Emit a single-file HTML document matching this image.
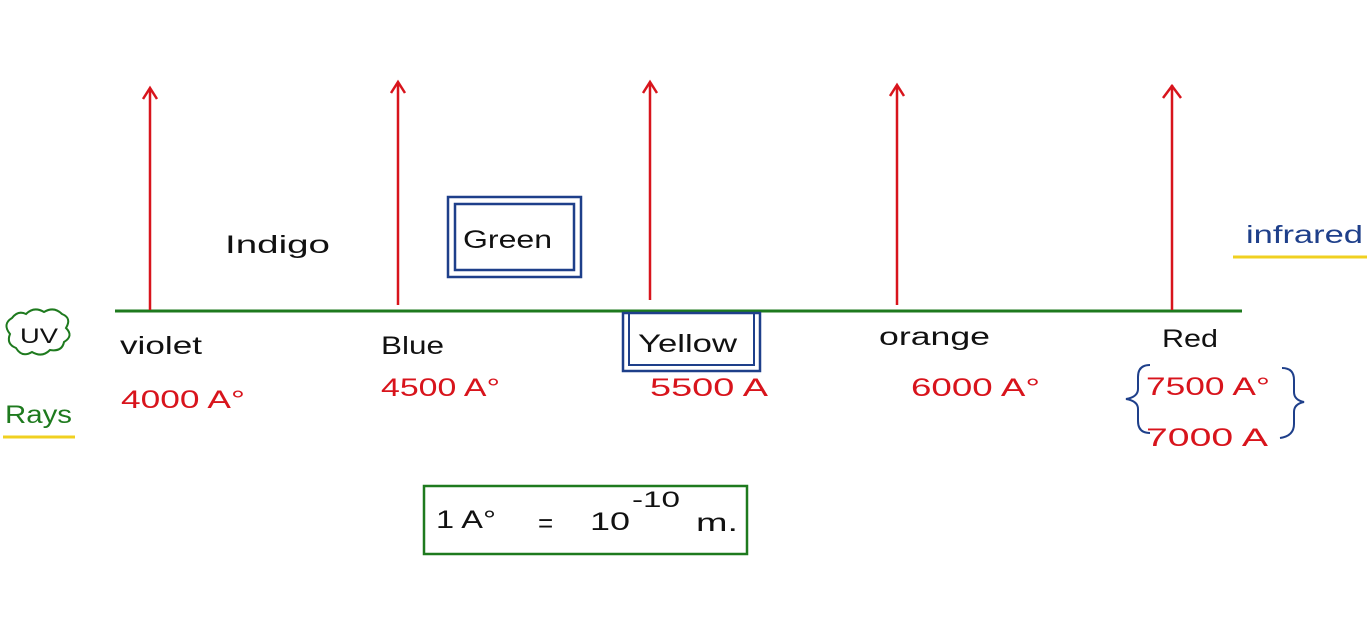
<!DOCTYPE html>
<html><head><meta charset="utf-8"><style>
html,body{margin:0;padding:0;background:#fff;}
svg{display:block;}
text{font-family:"Liberation Sans",sans-serif;}
</style></head><body>
<svg width="1367" height="622" viewBox="0 0 1367 622" xmlns="http://www.w3.org/2000/svg">
<rect width="1367" height="622" fill="#fff"/>
<line x1="115" y1="311" x2="1242" y2="311" stroke="#1e7a1e" stroke-width="3"/>
<g stroke="#d8141c" stroke-width="2.5" fill="none">
<line x1="150" y1="310" x2="150" y2="88"/><polyline points="143,99 150,88 157,99"/>
<line x1="398" y1="305" x2="398" y2="82"/><polyline points="391,93 398,82 405,93"/>
<line x1="650" y1="300" x2="650" y2="82"/><polyline points="643,93 650,82 657,93"/>
<line x1="897" y1="305" x2="897" y2="85"/><polyline points="890,96 897,85 904,96"/>
<line x1="1172" y1="310" x2="1172" y2="85"/><polyline points="1163,98 1172,86 1181,98"/>
</g>
<g lengthAdjust="spacingAndGlyphs">
<text x="225" y="253" font-size="25" fill="#111" textLength="105" lengthAdjust="spacingAndGlyphs">Indigo</text>
<rect x="448" y="197" width="133" height="80" fill="none" stroke="#1e3f8a" stroke-width="2.5"/>
<rect x="455" y="204" width="119" height="66" fill="none" stroke="#1e3f8a" stroke-width="2.5"/>
<text x="463" y="248" font-size="25" fill="#111" textLength="89" lengthAdjust="spacingAndGlyphs">Green</text>
<text x="1246" y="243" font-size="25" fill="#1e3f8a" textLength="117" lengthAdjust="spacingAndGlyphs">infrared</text>
<line x1="1233" y1="257" x2="1367" y2="257" stroke="#f0d020" stroke-width="3"/>
<path d="M12,318 q6,-8 14,-4 q8,-8 18,-2 q10,-6 18,2 q10,4 4,14 q8,8 -2,14 q-2,10 -14,8 q-8,8 -18,2 q-10,6 -16,-4 q-10,-4 -6,-14 q-8,-10 2,-16z" fill="none" stroke="#1e7a1e" stroke-width="2"/>
<text x="20" y="343" font-size="21" fill="#111" textLength="38" lengthAdjust="spacingAndGlyphs">UV</text>
<text x="5" y="423" font-size="25" fill="#1e7a1e" textLength="67" lengthAdjust="spacingAndGlyphs">Rays</text>
<line x1="3" y1="437" x2="75" y2="437" stroke="#f0d020" stroke-width="3"/>
<text x="120" y="354" font-size="25" fill="#111" textLength="82" lengthAdjust="spacingAndGlyphs">violet</text>
<text x="381" y="354" font-size="25" fill="#111" textLength="63" lengthAdjust="spacingAndGlyphs">Blue</text>
<rect x="623" y="313" width="137" height="58" fill="none" stroke="#1e3f8a" stroke-width="2.5"/>
<rect x="629" y="313" width="125" height="52" fill="none" stroke="#1e3f8a" stroke-width="2"/>
<text x="638" y="352" font-size="25" fill="#111" textLength="99" lengthAdjust="spacingAndGlyphs">Yellow</text>
<text x="879" y="345" font-size="25" fill="#111" textLength="111" lengthAdjust="spacingAndGlyphs">orange</text>
<text x="1162" y="347" font-size="25" fill="#111" textLength="56" lengthAdjust="spacingAndGlyphs">Red</text>
<g font-size="25" fill="#d8141c">
<text x="121" y="408" textLength="124" lengthAdjust="spacingAndGlyphs">4000 A°</text>
<text x="381" y="396" textLength="119" lengthAdjust="spacingAndGlyphs">4500 A°</text>
<text x="650" y="396" textLength="118" lengthAdjust="spacingAndGlyphs">5500 A</text>
<text x="911" y="396" textLength="129" lengthAdjust="spacingAndGlyphs">6000 A°</text>
<text x="1146" y="395" textLength="124" lengthAdjust="spacingAndGlyphs">7500 A°</text>
<text x="1146" y="446" textLength="122" lengthAdjust="spacingAndGlyphs">7000 A</text>
</g>
</g>
<g stroke="#1e3f8a" stroke-width="2" fill="none">
<path d="M1150,365 q-12,0 -12,12 v12 q0,8 -12,10 q12,2 12,10 v12 q0,12 12,12"/>
<path d="M1282,368 q12,0 12,12 v12 q0,8 10,10 q-10,2 -10,10 v12 q0,12 -14,14"/>
</g>
<rect x="424" y="486" width="323" height="68" fill="none" stroke="#1e7a1e" stroke-width="2.5"/>
<text x="436" y="528" font-size="25" fill="#111" textLength="60" lengthAdjust="spacingAndGlyphs">1 A°</text>
<text x="538" y="532" font-size="26" fill="#111">=</text>
<text x="590" y="530" font-size="25" fill="#111" textLength="40" lengthAdjust="spacingAndGlyphs">10</text>
<text x="632" y="507" font-size="22" fill="#111" textLength="48" lengthAdjust="spacingAndGlyphs">-10</text>
<text x="696" y="531" font-size="25" fill="#111" textLength="42" lengthAdjust="spacingAndGlyphs">m.</text>
</svg>
</body></html>
